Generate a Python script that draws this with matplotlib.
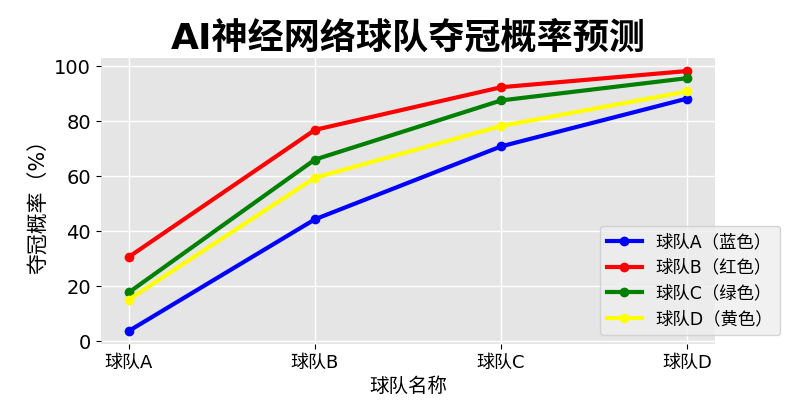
import matplotlib
matplotlib.use("Agg")
import matplotlib.pyplot as plt

plt.rcParams['font.family'] = ['DejaVu Sans', 'Noto Sans CJK SC']
plt.rcParams['axes.unicode_minus'] = False

teams = ['球队A', '球队B', '球队C', '球队D']
team_a = [3.7, 44.3, 70.8, 88.2]
team_b = [30.6, 76.8, 92.3, 98.2]
team_c = [17.7, 66.0, 87.5, 95.6]
team_d = [15.1, 59.4, 78.2, 90.8]

fig, ax = plt.subplots(figsize=(8, 4), dpi=100)
ax.set_facecolor('#e5e5e5')
for s in ax.spines.values():
    s.set_visible(False)

ax.plot(teams, team_a, marker='o', color='blue', linewidth=3, markersize=6, label='球队A（蓝色）')
ax.plot(teams, team_b, marker='o', color='red', linewidth=3, markersize=6, label='球队B（红色）')
ax.plot(teams, team_c, marker='o', color='green', linewidth=3, markersize=6, label='球队C（绿色）')
ax.plot(teams, team_d, marker='o', color='yellow', linewidth=3, markersize=6, label='球队D（黄色）')

ax.set_title('AI神经网络球队夺冠概率预测', fontsize=26, fontweight='bold', pad=7)
ax.set_xlabel('球队名称', fontsize=14)
ax.set_ylabel('夺冠概率（%）', fontsize=15)
ax.tick_params(axis='y', labelsize=14)
ax.tick_params(axis='x', labelsize=13)
ax.set_yticks([0, 20, 40, 60, 80, 100])
ax.grid(True, color='white', linewidth=1)
ax.set_axisbelow(True)
ax.legend(fontsize=12.5, loc='lower right', bbox_to_anchor=(1.12, 0.0), facecolor='#eeeeee',
          handlelength=2.0, borderpad=0.4, labelspacing=0.45)

fig.subplots_adjust(left=0.126, right=0.894, top=0.855, bottom=0.14)
fig.savefig('out.png')
